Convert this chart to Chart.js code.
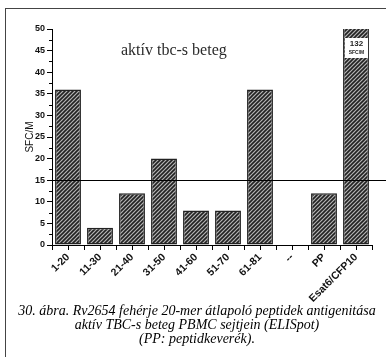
<!DOCTYPE html>
<html>
<head>
<meta charset="utf-8">
<script src="https://cdn.jsdelivr.net/npm/chart.js@4"></script>
<style>
  html, body { margin: 0; padding: 0; background: #fff; }
  #wrap { position: relative; width: 386px; height: 357px; overflow: hidden; }
  #frame { position: absolute; left: 5px; top: 8px; width: 400px; height: 400px;
           border-top: 1px solid #444; border-left: 1px solid #444; }
  #c { position: absolute; left: 0; top: 0; }
  .cap { position: absolute; left: 0; width: 394px; text-align: center;
         font-family: "Liberation Serif", "Times New Roman", serif; font-style: italic;
         font-size: 14px; color: #000; white-space: nowrap; }
  #title { position: absolute; left: 121px; top: 41px; font-family: "Liberation Serif", serif;
           font-size: 16px; color: #2a2a2a; }
</style>
</head>
<body>
<div id="wrap">
  <div id="frame"></div>
  <canvas id="c" width="386" height="357"></canvas>
  <div id="title">aktív tbc-s beteg</div>
  <div class="cap" style="top:303px">30. ábra. Rv2654 fehérje 20-mer átlapoló peptidek antigenitása</div>
  <div class="cap" style="top:317px">aktív TBC-s beteg PBMC sejtjein (ELISpot)</div>
  <div class="cap" style="top:331px">(PP: peptidkeverék).</div>
</div>
<script>
const categories = ["1-20", "11-30", "21-40", "31-50", "41-60", "51-70", "61-81", "--", "PP", "Esat6/CFP10"];
const sfcValues = [36, 4, 12, 20, 8, 8, 36, 0, 12, 132];
const yTicks = [0, 5, 10, 15, 20, 25, 30, 35, 40, 45, 50];
const cutoff = 15;

// diagonal hatch fill
function makeHatch() {
    const p = document.createElement("canvas");
    p.width = 4; p.height = 4;
    const g = p.getContext("2d");
    g.fillStyle = "#b4b4b4";
    g.fillRect(0, 0, 4, 4);
    g.strokeStyle = "#222";
    g.lineWidth = 1.6;
    g.beginPath();
    g.moveTo(-1, 5); g.lineTo(5, -1);
    g.moveTo(-1, 1); g.lineTo(1, -1);
    g.moveTo(3, 5); g.lineTo(5, 3);
    g.stroke();
    return g.createPattern(p, "repeat");
}

const extras = {
    id: "extras",
    afterDatasetsDraw(chart) {
        const ctx = chart.ctx;
        const x = chart.scales.x, y = chart.scales.y;
        const area = chart.chartArea;
        ctx.save();
        ctx.strokeStyle = "#000";
        ctx.lineWidth = 1;
        // cutoff line
        const yc = Math.round(y.getPixelForValue(cutoff)) + 0.5;
        ctx.beginPath();
        ctx.moveTo(area.left, yc);
        ctx.lineTo(chart.width, yc);
        ctx.stroke();
        // minor y ticks
        ctx.beginPath();
        for (let v = 2.5; v < 50; v += 5) {
            const py = Math.round(y.getPixelForValue(v)) + 0.5;
            ctx.moveTo(area.left - 3, py);
            ctx.lineTo(area.left, py);
        }
        // x ticks at category centres
        categories.forEach((c, i) => {
            const px = Math.round(x.getPixelForValue(i)) + 0.5;
            ctx.moveTo(px, area.bottom);
            ctx.lineTo(px, area.bottom + 5);
        });
        ctx.stroke();
        // label box inside the clipped bar
        const bar = chart.getDatasetMeta(0).data[9];
        const bx = bar.x - 11, by = area.top + 9;
        ctx.fillStyle = "#fff";
        ctx.fillRect(bx, by, 23, 20);
        ctx.fillStyle = "#222";
        ctx.textAlign = "center";
        ctx.textBaseline = "middle";
        ctx.font = "bold 8px 'Liberation Sans', Arial";
        ctx.fillText(String(sfcValues[9]), bar.x + 0.5, by + 6);
        ctx.font = "bold 5px 'Liberation Sans', Arial";
        ctx.fillText("SFC/M", bar.x + 0.5, by + 15);
        ctx.restore();
    }
};

new Chart(document.getElementById("c"), {
    type: "bar",
    data: {
        labels: categories,
        datasets: [{
            data: sfcValues,
            backgroundColor: makeHatch(),
            borderColor: "#222",
            borderWidth: 1.5,
            borderSkipped: false,
            barPercentage: 0.81,
            categoryPercentage: 1.0
        }]
    },
    options: {
        responsive: false,
        animation: false,
        events: [],
        layout: { padding: { left: 24, right: 14, top: 29, bottom: 0 } },
        plugins: { legend: { display: false }, tooltip: { enabled: false } },
        scales: {
            x: {
                grid: { display: true, drawOnChartArea: false, color: "#000", tickLength: 5, offset: true },
                border: { color: "#000", width: 1 },
                ticks: {
                    autoSkip: false, minRotation: 45, maxRotation: 45, padding: 1,
                    color: "#111", font: { family: "'Liberation Sans', Arial", size: 10.5, weight: "bold" }
                },
                afterFit: s => { s.height = 112; }
            },
            y: {
                min: 0, max: 50,
                afterBuildTicks: s => { s.ticks = yTicks.map(v => ({ value: v })); },
                grid: { display: true, drawOnChartArea: false, color: "#000", tickLength: 5 },
                border: { color: "#000", width: 1 },
                ticks: {
                    padding: 2, color: "#111",
                    font: { family: "'Liberation Sans', Arial", size: 9, weight: "bold" }
                },
                title: {
                    display: true, text: "SFC/M", color: "#111", padding: 0,
                    font: { family: "'Liberation Sans', Arial", size: 10 }
                },
                afterFit: s => { s.width = 28; }
            }
        }
    },
    plugins: [extras]
});
</script>
</body>
</html>
